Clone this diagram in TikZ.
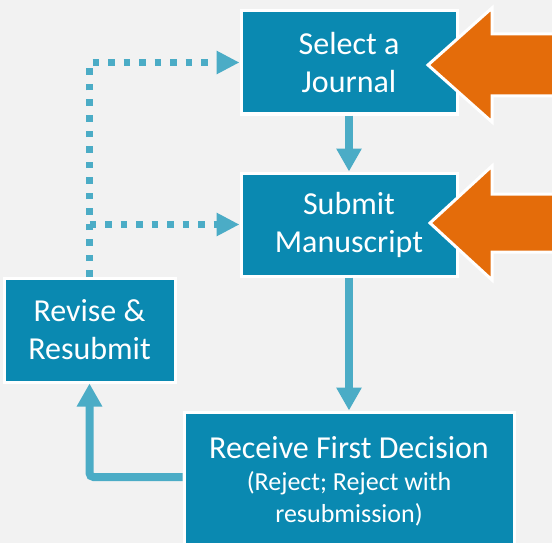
\documentclass[tikz,border=0pt]{standalone}
\usepackage{fontspec}
\setmainfont{Carlito}
\usepackage{xcolor}
\usetikzlibrary{arrows.meta, positioning}

\definecolor{boxblue}{HTML}{0A89B1}
\definecolor{linkblue}{HTML}{4BACC6}
\definecolor{pushorange}{HTML}{E46C0A}
\definecolor{bggray}{HTML}{F2F2F2}

\begin{document}
\begin{tikzpicture}[x=1pt, y=-1pt,
        block/.style={rectangle, draw=white, line width=3pt, fill=boxblue, text=white, align=center, minimum width=216pt, minimum height=103pt, font=\fontsize{32}{38}\selectfont},
        line/.style={draw=linkblue, line width=8pt, -{Triangle[width=24pt,length=23pt]}},
        dotline/.style={draw=linkblue, line width=7pt, dash pattern=on 6.5pt off 9pt, -{Triangle[width=22pt,length=23pt]}},
        push/.style={fill=pushorange, draw=white, line width=3pt, line join=miter}]

        \fill[bggray] (0,0) rectangle (552,543);
        \useasboundingbox (0,0) rectangle (552,543);
        \clip (0,0) rectangle (552,543);

        % Nodes
        \node [block] (journal) at (349,62.5) {Select a\\Journal};
        \node [block, below=56pt of journal] (submit) {Submit\\Manuscript};
        \node [block, below=133pt of submit, minimum width=330pt, minimum height=138pt, font=\fontsize{26}{32}\selectfont] (decision) {{\fontsize{32}{33}\selectfont Receive First Decision}\\(Reject; Reject with\\resubmission)};
        \node [block, minimum width=171pt, minimum height=104pt] (revise) at (89.5,330) {Revise \&\\Resubmit};
        \coordinate (split) at (revise.north |- submit.west);

        % Edges
        \path [line] (journal) -- (submit);
        \path [line] (submit) -- (decision);
        \path [line, rounded corners=4pt] ([yshift=4pt]decision.west) -| (revise);
        \path [dotline] (revise.north) |- (journal.west);
        \path [dotline] (split) -- (submit.west);

        % Orange arrows
        \path [push] (428,65) -- (492,8) -- (492,34) -- (560,34) -- (560,96) -- (492,96) -- (492,122) -- cycle;
        \path [push] (430,223) -- (492,166) -- (492,194) -- (560,194) -- (560,252) -- (492,252) -- (492,280) -- cycle;

    \end{tikzpicture}
\end{document}
